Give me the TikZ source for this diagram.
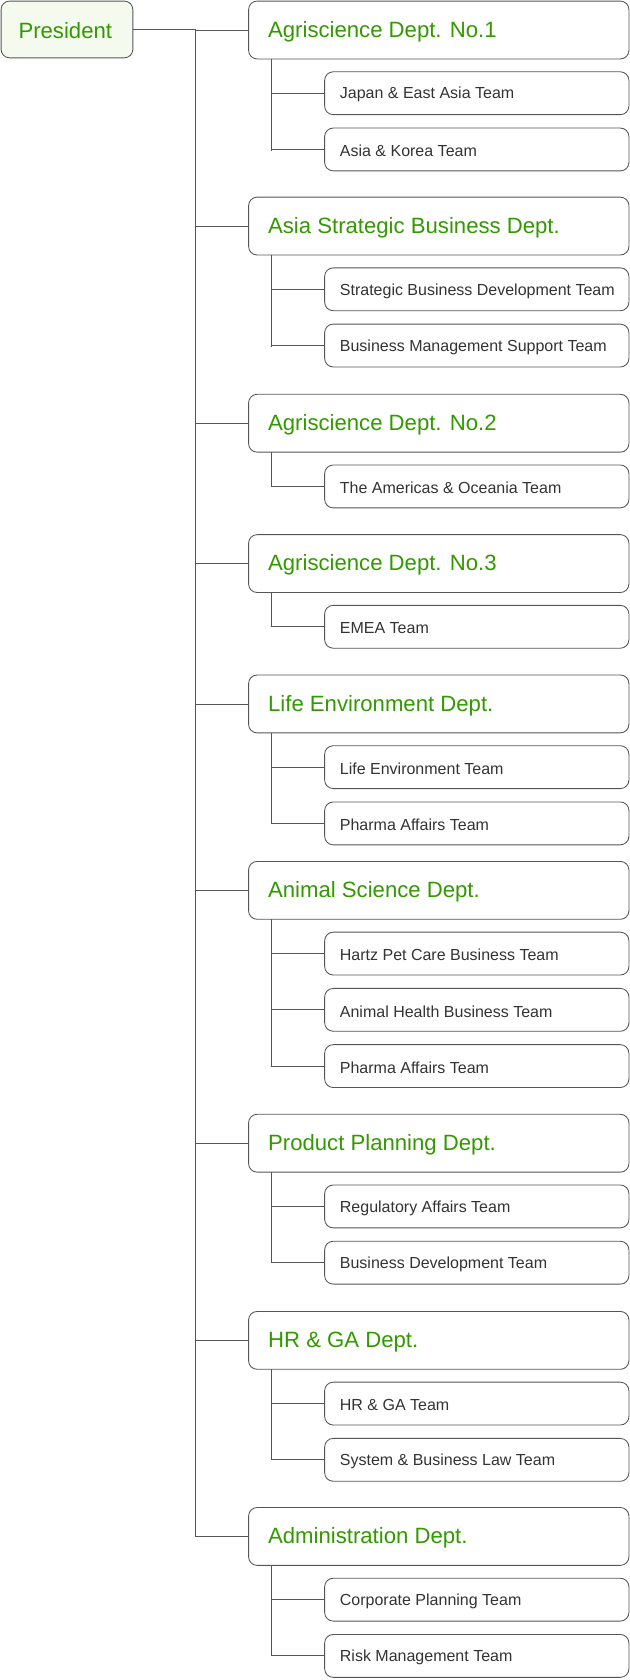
\documentclass[tikz,border=0pt]{standalone}
\usepackage{fontspec}
\setmainfont{Liberation Sans}
\definecolor{grn}{HTML}{339900}
\definecolor{txt}{HTML}{333333}
\definecolor{edge}{HTML}{555555}
\definecolor{pres}{HTML}{F5FAEE}
\begin{document}
\begin{tikzpicture}[x=0.75pt,y=-0.75pt,
 box/.style={draw=edge,line width=0.6pt,rounded corners=6pt},
 line/.style={draw=edge,line width=0.6pt}]
\useasboundingbox (0,0) rectangle (588,1568);
\draw[box,fill=pres] (1,1) rectangle (124,54);
\node[anchor=west,inner sep=0pt,text=grn,font=\fontsize{15.5}{17}\selectfont] (pr) at (17,28.5) {President};
\coordinate (pe) at (124,27.5);
\coordinate (tt) at (182,27.5);
\newcommand\dept[3]{% top, name, label
 \draw[box,fill=white] (232,#1) rectangle (587,#1+54);
 \node[anchor=west,inner sep=0pt,text=grn,font=\fontsize{15.5}{17}\selectfont] (#2) at (250,#1+28.5) {#3};
 \coordinate (#2w) at (232,#1+27);
 \coordinate (#2b) at (253,#1+54);
 \draw[line] (182,#1+27) -- (#2w);}
\newcommand\team[4]{% dept top, index, name, label
 \pgfmathsetmacro\ty{#1+66+52.5*#2}
 \draw[box,fill=white] (303,\ty) rectangle (587,\ty+40);
 \node[anchor=west,inner sep=0pt,text=txt,font=\fontsize{11.2}{13}\selectfont] (#3) at (317,\ty+21.5) {#4};
 \coordinate (#3w) at (303,\ty+20);
 \draw[line] (253,\ty+20) -- (#3w);}
\draw[line] (pe) -- (tt) -- (182,1434);
\dept{1}{d1}{Agriscience Dept. No.1}
\team{1}{0}{t11}{Japan \& East Asia Team}
\team{1}{1}{t12}{Asia \& Korea Team}
\draw[line] (d1b) -- (253,140.5);
\dept{184}{d2}{Asia Strategic Business Dept.}
\team{184}{0}{t21}{Strategic Business Development Team}
\team{184}{1}{t22}{Business Management Support Team}
\draw[line] (d2b) -- (253,323.5);
\dept{368}{d3}{Agriscience Dept. No.2}
\team{368}{0}{t31}{The Americas \& Oceania Team}
\draw[line] (d3b) -- (253,454);
\dept{499}{d4}{Agriscience Dept. No.3}
\team{499}{0}{t41}{EMEA Team}
\draw[line] (d4b) -- (253,585);
\dept{630}{d5}{Life Environment Dept.}
\team{630}{0}{t51}{Life Environment Team}
\team{630}{1}{t52}{Pharma Affairs Team}
\draw[line] (d5b) -- (253,768.5);
\dept{804}{d6}{Animal Science Dept.}
\team{804}{0}{t61}{Hartz Pet Care Business Team}
\team{804}{1}{t62}{Animal Health Business Team}
\team{804}{2}{t63}{Pharma Affairs Team}
\draw[line] (d6b) -- (253,995);
\dept{1040}{d7}{Product Planning Dept.}
\team{1040}{0}{t71}{Regulatory Affairs Team}
\team{1040}{1}{t72}{Business Development Team}
\draw[line] (d7b) -- (253,1178.5);
\dept{1224}{d8}{HR \& GA Dept.}
\team{1224}{0}{t81}{HR \& GA Team}
\team{1224}{1}{t82}{System \& Business Law Team}
\draw[line] (d8b) -- (253,1362.5);
\dept{1407}{d9}{Administration Dept.}
\team{1407}{0}{t91}{Corporate Planning Team}
\team{1407}{1}{t92}{Risk Management Team}
\draw[line] (d9b) -- (253,1545.5);
\end{tikzpicture}
\end{document}
